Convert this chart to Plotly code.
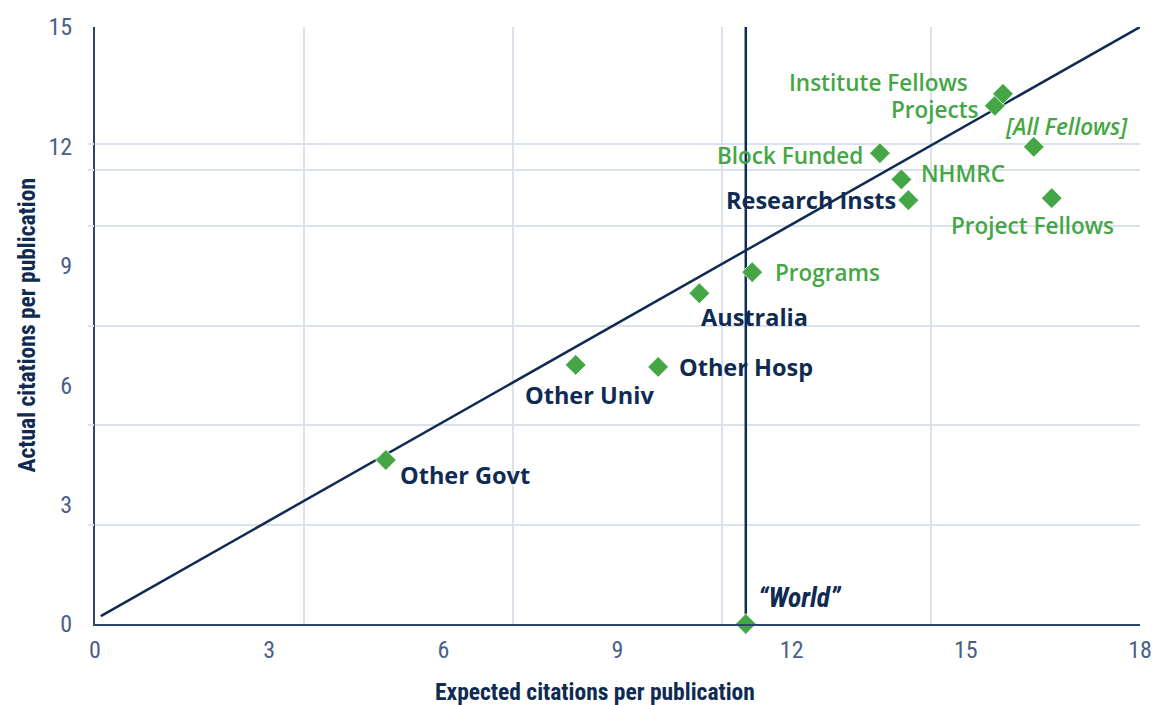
import plotly.graph_objects as go

# ---- data ----
labels = ["Other Govt", "Other Univ", "Other Hosp", "Australia", "Programs", "\u201cWorld\u201d",
          "Research Insts", "NHMRC", "Block Funded", "Projects", "Institute Fellows",
          "[All Fellows]", "Project Fellows"]
expected = [5.01, 8.28, 9.70, 10.41, 11.32, 11.21, 14.01, 13.89, 13.52, 15.50, 15.64, 16.17, 16.48]
actual = [4.12, 6.51, 6.46, 8.31, 8.84, 0.0, 10.65, 11.17, 11.83, 13.02, 13.32, 11.99, 10.70]
group = ["other", "other", "other", "other", "nhmrc", "other",
         "other", "nhmrc", "nhmrc", "nhmrc", "nhmrc", "nhmrc", "nhmrc"]

ref_x = [0.1, 18]
ref_y = [0.2, 15]
world_x = [11.21, 11.21]
world_y = [0, 15]

x_ticks = [0, 3, 6, 9, 12, 15, 18]
y_ticks = [0, 3, 6, 9, 12, 15]
x_grid = [3.6, 7.2, 10.8, 14.4, 18]
y_grid = [2.5, 5, 7.5, 10, 11.4, 12.05]

# ---- style ----
NAVY = "#0f2b52"
GREEN = "#45a645"
GRID = "#dbe2ec"
TICK = "#4a6088"
AXIS = "#2c4568"
COND = "Liberation Sans Narrow, Roboto Condensed, Roboto"
SANS = "Open Sans, Noto Sans, DejaVu Sans"

# label offsets (pixels): xanchor, xshift, yshift
label_style = {
    "Other Govt": ("left", 13, -15),
    "Other Univ": ("center", 14, -30),
    "Other Hosp": ("left", 20, 0),
    "Australia": ("left", 1, -24),
    "Programs": ("left", 22, 0),
    "\u201cWorld\u201d": ("left", 11, 27),
    "Research Insts": ("right", -11, 0),
    "NHMRC": ("left", 19, 6),
    "Block Funded": ("right", -16, -2),
    "Projects": ("right", -15, -4),
    "Institute Fellows": ("right", -34, 11),
    "[All Fellows]": ("center", 33, 20),
    "Project Fellows": ("center", -19, -27),
}

fig = go.Figure()

fig.add_trace(go.Scatter(x=ref_x, y=ref_y, mode="lines",
                         line=dict(color=NAVY, width=2.5), hoverinfo="skip", showlegend=False))
fig.add_trace(go.Scatter(x=world_x, y=world_y, mode="lines",
                         line=dict(color=NAVY, width=2.5), hoverinfo="skip", showlegend=False))
fig.add_trace(go.Scatter(x=expected, y=actual, mode="markers", text=labels,
                         marker=dict(symbol="diamond", size=16, color=GREEN,
                                     line=dict(width=0.8, color="white")),
                         cliponaxis=False, showlegend=False))

annotations = []
for lab, xv, yv, g in zip(labels, expected, actual, group):
    xa, xs, ys = label_style[lab]
    if lab == "\u201cWorld\u201d":
        font = dict(family=COND, size=27.5, color=NAVY, weight="bold", style="italic")
    elif lab == "[All Fellows]":
        font = dict(family=SANS, size=22.5, color=GREEN, style="italic", weight=600)
    elif g == "nhmrc":
        font = dict(family=SANS, size=22.5, color=GREEN, weight=600)
    else:
        font = dict(family=SANS, size=23.5, color=NAVY, weight="bold")
    annotations.append(dict(x=xv, y=yv, xref="x", yref="y", text=lab, showarrow=False,
                            xanchor=xa, yanchor="middle", xshift=xs, yshift=ys, font=font,
                            borderpad=0))

title_font = dict(family=COND, size=23.5, color=NAVY, weight="bold")
annotations.append(dict(x=0.478, y=-0.114, xref="paper", yref="paper",
                        text="Expected citations per publication", showarrow=False,
                        xanchor="center", yanchor="middle", font=title_font))
annotations.append(dict(x=-0.066, y=0.5, xref="paper", yref="paper",
                        text="Actual citations per publication", showarrow=False,
                        textangle=-90, xanchor="center", yanchor="middle", font=title_font))

tick_font = dict(family=COND, size=24, color=TICK)

# the page adds an 8px body margin, so the figure is sized/offset to compensate
fig.update_layout(
    width=1152, height=697,
    margin=dict(l=87, r=20, t=19, b=81, autoexpand=False),
    paper_bgcolor="white", plot_bgcolor="white",
    annotations=annotations,
    xaxis=dict(range=[0, 18], tickmode="array", tickvals=x_ticks, showgrid=False,
               zeroline=False, showline=True, linecolor=AXIS, linewidth=2,
               ticks="", tickfont=tick_font, ticklabelstandoff=3, automargin=False),
    yaxis=dict(range=[0, 15], tickmode="array", tickvals=y_ticks, showgrid=False,
               zeroline=False, showline=True, linecolor=AXIS, linewidth=2,
               ticks="", tickfont=tick_font, ticklabelstandoff=16, automargin=False),
    xaxis2=dict(overlaying="x", range=[0, 18], tickmode="array", tickvals=x_grid,
                showgrid=True, gridcolor=GRID, gridwidth=1.5, showticklabels=False,
                zeroline=False, showline=False, ticks="", automargin=False),
    yaxis2=dict(overlaying="y", range=[0, 15], tickmode="array", tickvals=y_grid,
                showgrid=True, gridcolor=GRID, gridwidth=1.5, showticklabels=False,
                zeroline=False, showline=False, ticks="outside", ticklen=6,
                tickcolor=GRID, tickwidth=1.5, automargin=False),
)

# invisible trace to activate the grid axes
fig.add_trace(go.Scatter(x=[0], y=[0], xaxis="x2", yaxis="y2", mode="markers",
                         marker=dict(opacity=0), hoverinfo="skip", showlegend=False))

fig.write_html("out.html")
